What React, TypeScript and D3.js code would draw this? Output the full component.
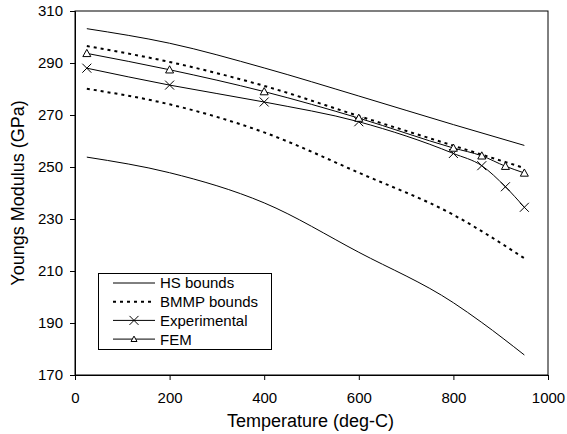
import React, { useRef, useEffect } from 'react';
import * as d3 from 'd3';

// temperatures of the measured / simulated points
const temps = [25, 200, 400, 600, 800, 860, 910, 950];
const experimental = [288, 281.5, 275, 267.4, 255.2, 250.5, 242.4, 234.5];
const fem = [293.7, 287.4, 279, 268.8, 257.3, 254.3, 250.3, 247.7];

// bounds curves
const boundTemps = [25, 200, 400, 600, 800, 950];
const hsUpper = [303.2, 297.6, 288.1, 277.3, 266.3, 258.3];
const hsLowerTemps = [25, 200, 400, 600, 800, 860, 950];
const hsLower = [253.8, 247.8, 236.2, 217.2, 197.8, 190.2, 177.7];
const bmmpUpper = [296.5, 290.4, 281.2, 269.6, 258.2, 249.6];
const bmmpLower = [280.1, 274.1, 263.3, 247.8, 231.6, 214.9];

const xTicks = [0, 200, 400, 600, 800, 1000];
const yTicks = [170, 190, 210, 230, 250, 270, 290, 310];

const legendItems = [
  { label: 'HS bounds', dash: null, marker: null },
  { label: 'BMMP bounds', dash: '3,4', marker: null },
  { label: 'Experimental', dash: null, marker: 'x' },
  { label: 'FEM', dash: null, marker: 'tri' },
];

export default function App() {
  const ref = useRef<SVGSVGElement>(null);

  useEffect(() => {
    const svg = d3.select(ref.current);
    svg.selectAll('*').remove();
    const font = 'Liberation Sans, Arial, sans-serif';

    const x = d3.scaleLinear().domain([0, 1000]).range([75, 548]);
    const y = d3.scaleLinear().domain([170, 310]).range([375, 11]);

    const g = svg.append('g').attr('font-family', font);

    // frame
    g.append('rect')
      .attr('x', 75).attr('y', 11)
      .attr('width', 473).attr('height', 364)
      .attr('fill', 'none').attr('stroke', '#000').attr('stroke-width', 1);

    const xAxis = g.append('g')
      .attr('transform', 'translate(0,375)')
      .call(d3.axisBottom(x).tickValues(xTicks).tickSize(5).tickPadding(12).tickFormat(d3.format('d')));
    const yAxis = g.append('g')
      .attr('transform', 'translate(75,0)')
      .call(d3.axisLeft(y).tickValues(yTicks).tickSize(5).tickPadding(7).tickFormat(d3.format('d')));
    [xAxis, yAxis].forEach(a => {
      a.select('.domain').attr('stroke', '#000');
      a.selectAll('text').attr('font-size', 15).attr('font-family', font).attr('fill', '#000');
    });

    const curve = d3.line<[number, number]>()
      .x(d => x(d[0])).y(d => y(d[1]))
      .curve(d3.curveMonotoneX);

    const drawLine = (xs: number[], ys: number[], dash: string | null, width: number) => {
      g.append('path')
        .attr('d', curve(xs.map((t, i) => [t, ys[i]] as [number, number])))
        .attr('fill', 'none')
        .attr('stroke', '#000')
        .attr('stroke-width', width)
        .attr('stroke-dasharray', dash);
    };

    drawLine(boundTemps, hsUpper, null, 1);
    drawLine(hsLowerTemps, hsLower, null, 1);
    drawLine(boundTemps, bmmpUpper, '3,4', 2);
    drawLine(boundTemps, bmmpLower, '3,4', 2);
    drawLine(temps, experimental, null, 1);
    drawLine(temps, fem, null, 1);

    const drawX = (sel: any, cx: number, cy: number) => {
      const s = 4.5;
      sel.append('path')
        .attr('d', `M${cx - s},${cy - s}L${cx + s},${cy + s}M${cx - s},${cy + s}L${cx + s},${cy - s}`)
        .attr('stroke', '#000').attr('stroke-width', 1).attr('fill', 'none');
    };
    const drawTri = (sel: any, cx: number, cy: number, s: number) => {
      sel.append('path')
        .attr('d', `M${cx},${cy - s}L${cx + s},${cy + s * 0.8}L${cx - s},${cy + s * 0.8}Z`)
        .attr('stroke', '#000').attr('stroke-width', 1).attr('fill', '#fff');
    };

    temps.forEach((t, i) => drawX(g, x(t), y(experimental[i])));
    temps.forEach((t, i) => drawTri(g, x(t), y(fem[i]), 4));

    // legend
    const lg = g.append('g');
    lg.append('rect')
      .attr('x', 98.5).attr('y', 273.5).attr('width', 173).attr('height', 76)
      .attr('fill', '#fff').attr('stroke', '#000').attr('stroke-width', 1);
    legendItems.forEach((item, i) => {
      const ly = 283 + i * 18.7;
      lg.append('line')
        .attr('x1', 113).attr('x2', 155).attr('y1', ly).attr('y2', ly)
        .attr('stroke', '#000')
        .attr('stroke-width', item.dash ? 2 : 1)
        .attr('stroke-dasharray', item.dash);
      if (item.marker === 'x') drawX(lg, 134, ly);
      if (item.marker === 'tri') drawTri(lg, 134, ly, 3);
      lg.append('text')
        .attr('x', 160).attr('y', ly).attr('dy', '0.36em')
        .attr('font-size', 15).attr('fill', '#000')
        .text(item.label);
    });

    // axis titles
    g.append('text')
      .attr('x', 310.5).attr('y', 427)
      .attr('text-anchor', 'middle').attr('font-size', 18)
      .text('Temperature (deg-C)');
    g.append('text')
      .attr('transform', 'translate(24,193) rotate(-90)')
      .attr('text-anchor', 'middle').attr('font-size', 18)
      .text('Youngs Modulus (GPa)');
  }, []);

  return (
    <div style={{ position: 'absolute', left: 0, top: 0 }}>
      <svg ref={ref} width={567} height={434} style={{ display: 'block', background: '#fff' }} />
    </div>
  );
}
